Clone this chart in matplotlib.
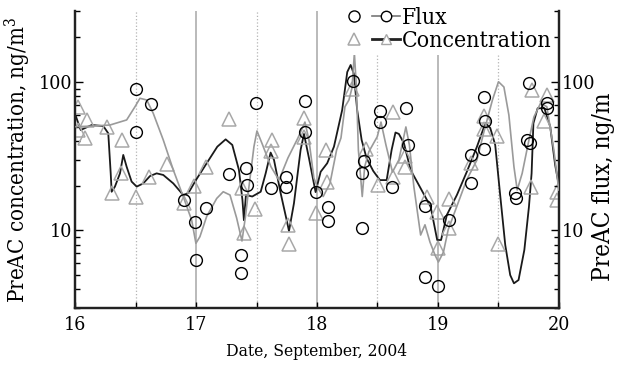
import numpy as np
import matplotlib.pyplot as plt
from matplotlib.lines import Line2D
from matplotlib.legend_handler import HandlerTuple
from matplotlib.ticker import LogLocator, NullFormatter, StrMethodFormatter, MultipleLocator

plt.rcParams['font.family'] = ['DejaVu Serif Condensed', 'DejaVu Serif']
plt.rcParams['font.stretch'] = 'condensed'
plt.rcParams['mathtext.fontset'] = 'dejavuserif'

# Concentration samples (triangles), ng/m3
conc_day = [16.026, 16.026, 16.101, 16.084, 16.266, 16.390, 16.376, 16.304, 16.502, 16.611,
            16.756, 16.899, 16.986, 17.081, 17.271, 17.379, 17.395, 17.486, 17.624, 17.620,
            17.762, 17.765, 17.896, 17.892, 17.995, 18.074, 18.086, 18.289, 18.404, 18.508,
            18.632, 18.628, 18.727, 18.727, 18.913, 18.992, 19.004, 19.091, 19.091, 19.277,
            19.385, 19.381, 19.488, 19.500, 19.769, 19.777, 19.901, 19.881, 19.988, 19.988]
conc_val = [67.7, 47.4, 55.4, 41.9, 49.7, 40.6, 24.3, 17.8, 16.8, 22.9,
            28.0, 15.3, 20.0, 26.8, 55.8, 19.3, 9.55, 13.9, 40.6, 34.2,
            10.9, 8.06, 56.8, 42.5, 13.0, 34.5, 21.3, 89.5, 35.3, 20.2,
            63.1, 22.9, 26.8, 31.7, 16.9, 13.2, 7.57, 16.3, 10.4, 28.2,
            58.9, 47.9, 42.9, 8.13, 19.7, 88.8, 81.5, 54.5, 18.2, 15.9]

# Flux samples (circles)
flux_day = [16.506, 16.624, 16.506, 16.899, 16.994, 16.998, 17.083, 17.273, 17.371, 17.375,
            17.416, 17.423, 17.495, 17.619, 17.747, 17.747, 17.904, 17.900, 17.993, 18.092,
            18.092, 18.297, 18.388, 18.376, 18.376, 18.520, 18.520, 18.622, 18.739, 18.754,
            18.890, 18.893, 19.000, 19.093, 19.277, 19.277, 19.382, 19.389, 19.385, 19.637,
            19.645, 19.754, 19.740, 19.765, 19.899, 19.903]
flux_val = [89.1, 70.6, 45.6, 15.9, 11.4, 6.36, 14.2, 24.0, 6.82, 5.14,
            26.5, 20.2, 71.7, 19.3, 23.0, 19.7, 74.7, 46.2, 18.1, 14.4,
            11.6, 100.6, 29.4, 24.4, 10.4, 63.6, 53.8, 19.6, 66.4, 37.6,
            14.7, 4.84, 4.25, 11.7, 32.3, 20.9, 78.5, 54.5, 35.4, 17.8,
            16.5, 97.8, 40.3, 38.9, 72.4, 67.0]

# Smoothed concentration (black line)
conc_curve_day = [16.006, 16.045, 16.136, 16.232, 16.273, 16.293, 16.301, 16.328, 16.370, 16.397,
                  16.425, 16.466, 16.508, 16.562, 16.618, 16.673, 16.728, 16.811, 16.893, 16.935,
                  16.998, 17.087, 17.175, 17.244, 17.299, 17.354, 17.383, 17.395, 17.412, 17.464,
                  17.534, 17.575, 17.616, 17.644, 17.699, 17.749, 17.768, 17.809, 17.864, 17.892,
                  17.933, 17.988, 18.030, 18.084, 18.140, 18.208, 18.250, 18.278, 18.305, 18.332,
                  18.369, 18.410, 18.465, 18.520, 18.576, 18.617, 18.649, 18.677, 18.719, 18.774,
                  18.857, 18.940, 18.994, 19.026, 19.074, 19.157, 19.240, 19.323, 19.393, 19.433,
                  19.474, 19.515, 19.557, 19.598, 19.629, 19.667, 19.715, 19.753, 19.775, 19.790,
                  19.825, 19.881, 19.929, 19.970, 20.0]
conc_curve_val = [58.3, 47.4, 51.2, 50.4, 45.0, 24.3, 18.2, 19.7, 24.2, 32.2,
                  26.8, 21.3, 19.7, 20.7, 23.2, 24.2, 23.6, 20.7, 17.3, 17.8,
                  21.8, 28.3, 36.6, 41.0, 37.6, 25.5, 16.0, 11.7, 17.3, 16.9,
                  18.2, 24.2, 33.4, 29.8, 17.8, 11.7, 9.90, 15.2, 34.8, 44.6,
                  30.7, 18.1, 24.8, 28.3, 36.6, 64.6, 116.5, 129.9, 113.0, 64.6,
                  40.6, 30.6, 25.1, 21.8, 21.8, 34.8, 45.6, 44.6, 38.6, 25.5,
                  19.2, 14.4, 8.61, 8.61, 12.7, 17.3, 24.9, 36.6, 52.8, 48.9,
                  37.6, 17.3, 7.97, 5.00, 4.40, 4.63, 7.38, 14.4, 24.2, 52.6,
                  66.4, 66.4, 49.9, 27.5, 20.2]

# Smoothed flux (gray line)
flux_curve_day = [16.006, 16.149, 16.287, 16.425, 16.494, 16.535, 16.591, 16.645, 16.728, 16.811,
                  16.893, 16.963, 16.998, 17.031, 17.087, 17.170, 17.224, 17.280, 17.335, 17.379,
                  17.408, 17.437, 17.478, 17.503, 17.547, 17.619, 17.685, 17.759, 17.842, 17.900,
                  17.933, 17.974, 18.007, 18.051, 18.107, 18.162, 18.198, 18.231, 18.264, 18.289,
                  18.309, 18.326, 18.342, 18.374, 18.394, 18.429, 18.498, 18.529, 18.570, 18.624,
                  18.677, 18.735, 18.764, 18.801, 18.857, 18.893, 18.934, 18.976, 19.004, 19.046,
                  19.085, 19.155, 19.237, 19.323, 19.380, 19.451, 19.501, 19.546, 19.587, 19.629,
                  19.656, 19.697, 19.753, 19.794, 19.849, 19.901, 19.959, 20.0]
flux_curve_val = [49.9, 50.4, 51.2, 55.4, 68.0, 77.5, 75.5, 61.4, 40.6, 25.5,
                  16.9, 11.7, 8.18, 9.06, 12.4, 16.4, 18.2, 17.3, 12.1, 8.48,
                  12.4, 19.7, 36.6, 46.7, 38.1, 26.8, 21.8, 30.7, 41.9, 53.6,
                  40.6, 22.5, 19.3, 16.9, 20.7, 34.8, 41.9, 68.0, 75.5, 90.9,
                  155.7, 90.9, 34.8, 16.9, 26.8, 33.9, 42.7, 53.6, 37.6, 24.7,
                  29.8, 49.7, 37.6, 19.7, 9.30, 10.9, 8.35, 6.82, 6.12, 7.15,
                  10.1, 14.4, 21.8, 29.8, 45.9, 75.5, 100.2, 92.3, 59.8, 26.8,
                  18.7, 24.2, 40.6, 58.0, 71.7, 68.0, 34.8, 18.7]

day_ticks = [16, 17, 18, 19, 20]
half_days = [16.5, 17.5, 18.5, 19.5]

fig = plt.figure(figsize=(6.18, 3.69), dpi=100)
ax = fig.add_axes([0.1218, 0.1653, 0.7824, 0.8049])
ax2 = ax.twinx()

for d in day_ticks[1:-1]:
    ax.axvline(d, color='#b4b4b4', lw=1.3, zorder=0)
for d in half_days:
    ax.axvline(d, color='#b4b4b4', lw=0.9, ls=':', zorder=0)

ax.plot(conc_curve_day, conc_curve_val, color='#1a1a1a', lw=1.3, zorder=3)
ax.plot(conc_day, conc_val, ls='none', marker='^', ms=9.5, mfc='none', mec='#a8a8a8', mew=1.1, zorder=4)

ax2.plot(flux_curve_day, flux_curve_val, color='#9a9a9a', lw=1.2, zorder=3)
ax2.plot(flux_day, flux_val, ls='none', marker='o', ms=8.5, mfc='none', mec='black', mew=1.0, zorder=4)

for a in (ax, ax2):
    a.set_yscale('log')
    a.set_ylim(3, 300)
    a.set_xlim(16, 20)
    a.yaxis.set_major_locator(LogLocator(base=10))
    a.yaxis.set_minor_locator(LogLocator(base=10, subs=range(2, 10)))
    a.yaxis.set_major_formatter(StrMethodFormatter('{x:.0f}'))
    a.yaxis.set_minor_formatter(NullFormatter())
    a.spines['top'].set_visible(False)
    for s in a.spines.values():
        s.set_linewidth(1.6)
        s.set_color('#222222')

ax.set_xticks(day_ticks)
ax.xaxis.set_minor_locator(MultipleLocator(0.5))
ax.tick_params(axis='x', which='both', direction='in', length=4, width=1, labelsize=14, pad=6)
ax.tick_params(axis='y', which='major', direction='in', length=6, width=1, labelsize=14, pad=2,
               left=True, right=False)
ax.tick_params(axis='y', which='minor', direction='in', length=3.5, width=1, left=True, right=False)
ax2.tick_params(axis='y', which='major', direction='in', length=6, width=1, labelsize=14, pad=2)
ax2.tick_params(axis='y', which='minor', direction='in', length=3.5, width=1)

ax.set_xlabel('Date, September, 2004', fontsize=12.5, labelpad=6)
ax.set_ylabel('PreAC concentration, ng/m$^3$', fontsize=16)
ax.yaxis.set_label_coords(-0.088, 0.5)
ax2.set_ylabel('PreAC flux, ng/m', fontsize=17.5)
ax2.yaxis.set_label_coords(1.069, 0.409)

h_flux_pts = Line2D([], [], ls='none', marker='o', ms=8, mfc='none', mec='black', mew=1.0)
h_flux_line = Line2D([], [], color='#777777', lw=1.2, marker='o', ms=7.5, mfc='white', mec='black', mew=1.0)
h_conc_pts = Line2D([], [], ls='none', marker='^', ms=9, mfc='none', mec='#a8a8a8', mew=1.1)
h_conc_line = Line2D([], [], color='#222222', lw=2.0, marker='^', ms=6.5, mfc='white', mec='#a8a8a8', mew=1.0)
ax2.legend([(h_flux_pts, h_flux_line), (h_conc_pts, h_conc_line)], ['Flux', 'Concentration'],
           handler_map={tuple: HandlerTuple(ndivide=None, pad=0.2)},
           loc='upper right', bbox_to_anchor=(0.99, 1.02), frameon=True, fancybox=False,
           edgecolor='none', facecolor='white', framealpha=1, handlelength=2.6,
           handletextpad=0.1, borderpad=0.1, labelspacing=0.05, fontsize=16.5, borderaxespad=0)

fig.savefig('out.png', dpi=100)
